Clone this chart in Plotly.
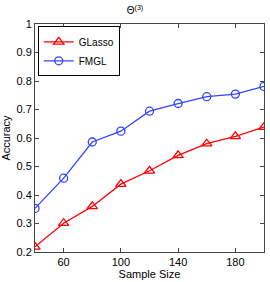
import plotly.graph_objects as go

sample_size = [40, 60, 80, 100, 120, 140, 160, 180, 200]
glasso = [0.218, 0.301, 0.360, 0.438, 0.485, 0.539, 0.580, 0.606, 0.638]
fmgl = [0.353, 0.459, 0.586, 0.624, 0.694, 0.721, 0.745, 0.754, 0.781]
x_ticks = [60, 100, 140, 180]
y_ticks = [0.2, 0.3, 0.4, 0.5, 0.6, 0.7, 0.8, 0.9, 1.0]
y_tick_text = ["0.2", "0.3", "0.4", "0.5", "0.6", "0.7", "0.8", "0.9", "1"]

font = "Liberation Sans, Arial, sans-serif"

fig = go.Figure()
fig.add_trace(go.Scatter(
    x=sample_size, y=glasso, name="GLasso", mode="lines+markers",
    line=dict(color="#ff0000", width=1.3),
    marker=dict(symbol="triangle-up-open", size=9, color="#ff0000", line=dict(width=1.3)),
))
fig.add_trace(go.Scatter(
    x=sample_size, y=fmgl, name="FMGL", mode="lines+markers",
    line=dict(color="#3344ff", width=1.3),
    marker=dict(symbol="circle-open", size=8, color="#3344ff", line=dict(width=1.3)),
))

axis_common = dict(
    showgrid=False, zeroline=False, showline=True, linecolor="#444444", linewidth=1,
    mirror="ticks", ticks="inside", ticklen=4, tickcolor="#444444",
    tickfont=dict(family=font, size=11, color="#000000"),
)

fig.update_layout(
    width=270, height=282,
    margin=dict(l=33, r=5, t=24, b=27),
    paper_bgcolor="white", plot_bgcolor="white",
    font=dict(family=font, size=11, color="#000000"),
    title=dict(text="Θ<sup>(3)</sup>", x=0.5, xanchor="center", y=0.962, yanchor="middle",
               font=dict(family=font, size=10, color="#000000")),
    xaxis=dict(range=[40, 200], tickvals=x_ticks,
               title=dict(text="Sample Size", standoff=1, font=dict(family=font, size=11)),
               **axis_common),
    yaxis=dict(range=[0.2, 1.0], tickvals=y_ticks, ticktext=y_tick_text,
               title=dict(text="Accuracy", standoff=4, font=dict(family=font, size=11)),
               **axis_common),
    legend=dict(x=0.012, y=0.99, xanchor="left", yanchor="top",
                bgcolor="white", bordercolor="#000000", borderwidth=1,
                font=dict(family=font, size=10), tracegroupgap=0, itemwidth=30),
    showlegend=True,
)

fig.write_html("out.html", config={"displayModeBar": False},
               post_script="document.body.style.margin='0px';document.body.style.overflow='hidden';")
